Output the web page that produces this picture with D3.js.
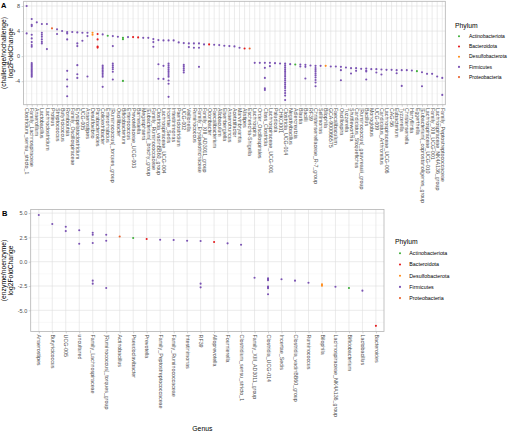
<!DOCTYPE html>
<html><head><meta charset="utf-8">
<script src="https://cdn.jsdelivr.net/npm/d3@7"></script>
<style>body{margin:0;background:#fff} svg{display:block} text{font-family:"Liberation Sans",Arial,sans-serif}</style>
</head><body><svg id="c" width="510" height="433"></svg>
<script>
const phyla = ["Actinobacteriota","Bacteroidota","Desulfobacterota","Firmicutes","Proteobacteria"];
const phylumColors = ["#3FAE3A","#E41A1C","#FF8C1A","#7A52B3","#E8622C"];

const genusA = ["Clostridium_sensu_stricto_1","Family_Lachnospiraceae","Anaerofilum","Lactobacillus","Lachnoclostridium","Proteus","Streptococcus","Butyricicoccus","Romboutsia","Family_Oscillospiraceae","Erysipelatoclostridium","UCG-005","Anaerostipes","Desulfovibrio","Parabacteroides","Colidextribacter","Enterorhabdus","[Ruminococcus]_torques_group","Oscillibacter","Bifidobacterium","Enterococcus","Prevotellaceae_UCG-003","Barnesiella","Megasphaera","[Eubacterium]_brachy_group","Family_Ruminococcaceae","Clostridia_vadinBB60_group","Lachnospiraceae_UCG-004","Incertae_Sedis","Intestinimonas","Paeniclostridium","UCG-002","Veillonella","Ruminococcus","Family_Erysipelotrichaceae","Family_XIII_AD3011_group","Odoribacter","Faecalibacterium","Allobaculum","Eisenbergiella","Anaerotruncus","Acetatifactor","Marvinbryantia","Alistipes","Escherichia-Shigella","Lachnospira","Order_Oscillospirales","Class_Clostridia","Lachnospiraceae_UCG-001","Paludicola","CHKCI001","Clostridia_UCG-014","Negativibacillus","Adlercreutzia","Blautia","Bacilli","RF39","Christensenellaceae_R-7_group","Sellimonas","Bilophila","GCA-900066575","Faecalibaculum","Oscillospira","Tuzzerella","Shuttleworthia","Candidatus_Stoquefichus","[Ruminococcus]_gauvreauii_group","Bacillus","Monoglobus","UCG-009","Candidatus_Arthromitus","Lachnospiraceae_UCG-006","CAG-56","Eubacterium","Tyzzerella","Christensenella","Harryflintia","Eggerthella","[Eubacterium]_coprostanoligenes_group","Lachnospiraceae_UCG-010","Family_XIII_UCG-001","Lachnospiraceae_NK4A136_group","Family_Peptostreptococcaceae"];
const phylumA = ["Firmicutes","Firmicutes","Firmicutes","Firmicutes","Firmicutes","Proteobacteria","Firmicutes","Firmicutes","Firmicutes","Firmicutes","Firmicutes","Firmicutes","Firmicutes","Desulfobacterota","Bacteroidota","Firmicutes","Actinobacteriota","Firmicutes","Firmicutes","Actinobacteriota","Firmicutes","Bacteroidota","Bacteroidota","Firmicutes","Firmicutes","Firmicutes","Firmicutes","Firmicutes","Firmicutes","Firmicutes","Firmicutes","Firmicutes","Firmicutes","Firmicutes","Firmicutes","Firmicutes","Bacteroidota","Firmicutes","Firmicutes","Firmicutes","Firmicutes","Firmicutes","Firmicutes","Bacteroidota","Proteobacteria","Firmicutes","Firmicutes","Firmicutes","Firmicutes","Firmicutes","Firmicutes","Firmicutes","Firmicutes","Actinobacteriota","Firmicutes","Firmicutes","Firmicutes","Firmicutes","Firmicutes","Desulfobacterota","Firmicutes","Firmicutes","Firmicutes","Firmicutes","Firmicutes","Firmicutes","Firmicutes","Firmicutes","Firmicutes","Firmicutes","Firmicutes","Firmicutes","Firmicutes","Firmicutes","Firmicutes","Firmicutes","Firmicutes","Actinobacteriota","Firmicutes","Firmicutes","Firmicutes","Firmicutes","Firmicutes"];
const valuesA = [
 [8.0,3.63],
 [5.92,5.0,4.79,3.41,2.83,2.24,1.76,1.49,-1.1,-1.3,-1.5,-1.7,-1.9,-2.1,-2.3,-2.5,-2.7,-2.9,-3.1,-3.3],
 [5.39],
 [5.12,3.73,3.41,3.09,2.67,2.29,2.03],
 [5.12,1.12],
 [4.43],
 [4.27,3.52],
 [4.0],
 [3.84,3.63,2.67,-2.35,-3.73,-4.85,-6.4],
 [3.84],
 [3.79,2.03,1.6,-1.44,-2.88,-3.47],
 [3.73,2.45],
 [3.73,3.2,-3.25],
 [3.73,3.41],
 [3.52,2.67,1.52,1.36],
 [3.47,-1.5,-1.75,-2.0,-2.25,-2.5,-2.75,-3.0,-3.3,-4.9],
 [3.25],
 [3.2,1.6,-1.2,-1.5,-1.8,-2.1,-2.5,-3.73],
 [3.09],
 [2.92,2.7,-3.95],
 [3.04],
 [3.04],
 [2.99],
 [2.92],
 [2.92],
 [2.72,2.24,1.49],
 [2.56,-1.3,-3.6],
 [2.51,-1.55,-3.63],
 [2.51,-1.2,-1.5,-1.8,-2.1,-2.4,-2.7,-3.0,-3.3,-3.9,-4.4,-6.5],
 [2.51],
 [2.19],
 [2.08,-1.4,-1.7,-2.0,-2.3,-2.6],
 [2.03,1.44],
 [2.03,1.33],
 [2.03,1.33,-1.71],
 [1.87],
 [1.87],
 [1.81],
 [1.76],
 [1.65],
 [1.6],
 [1.55],
 [1.33],
 [1.23],
 [1.23],
 [-1.07],
 [-1.07],
 [-1.07,-1.87,-3.47,-5.12,-5.39],
 [-1.07,-1.6],
 [-1.12],
 [-1.17],
 [-1.2,-1.5,-1.8,-2.1,-2.4,-2.7,-3.0,-3.3,-3.6,-3.9,-4.2,-4.5,-4.8,-5.1,-5.5,-5.9,-6.3,-7.0],
 [-1.28],
 [-1.33],
 [-1.33,-1.65],
 [-1.39,-1.71,-3.57],
 [-1.49],
 [-1.55,-1.9,-2.2,-2.5,-2.8,-3.1,-3.4,-3.8,-4.2,-4.8],
 [-1.55],
 [-1.55],
 [-1.65],
 [-1.65],
 [-1.71,-2.24,-3.84],
 [-1.81],
 [-1.92,-2.77],
 [-1.92,-2.35],
 [-2.03],
 [-1.97,-2.29,-2.45,-3.73],
 [-2.08],
 [-2.08,-2.61],
 [-2.13,-2.93],
 [-2.19],
 [-2.19],
 [-2.24,-2.72],
 [-2.24,-4.75],
 [-2.24],
 [-2.29],
 [-2.4],
 [-2.56,-4.8],
 [-2.83],
 [-2.83],
 [-3.25],
 [-3.47,-6.19]
];

const genusB = ["Anaerostipes","Butyricicoccus","UCG-005","uncultured","Family_Lachnospiraceae","[Ruminococcus]_torques_group","Actinobacillus","Pseudoclavibacter","Prevotella","Family_Peptostreptococcaceae","Family_Ruminococcaceae","Intestinimonas","RF39","Alloprevotella","Fournierella","Clostridium_sensu_stricto_1","Family_XIII_AD3011_group","Clostridia_UCG-014","Incertae_Sedis","Clostridia_vadinBB60_group","Ruminococcus","Bilophila","Lachnospiraceae_NK4A136_group","Bifidobacterium","Lactobacillus","Bacteroides"];
const phylumB = ["Firmicutes","Firmicutes","Firmicutes","Firmicutes","Firmicutes","Firmicutes","Proteobacteria","Actinobacteriota","Bacteroidota","Firmicutes","Firmicutes","Firmicutes","Firmicutes","Bacteroidota","Firmicutes","Firmicutes","Firmicutes","Firmicutes","Firmicutes","Firmicutes","Firmicutes","Desulfobacterota","Firmicutes","Actinobacteriota","Firmicutes","Bacteroidota"];
const valuesB = [
 [4.8],[3.88],[3.6,3.15],[3.23,1.85],[2.98,2.78,1.92,-1.95,-2.26],[2.78,2.16,-2.7],
 [2.6],[2.44],[2.33],[2.26],[2.23],[2.16],[2.13,-2.26,-2.64],[2.03],[1.89],[1.75],
 [-1.65],[-1.72,-1.82,-1.9,-2.55,-2.65,-2.72,-3.35],[-1.81],[-1.95],[-2.16],[-2.33,-2.47],
 [-2.57],[-2.7],[-2.98],[-6.6]
];

const ticksA = [-4,0,4,8];
const tickLabelsA = ["-4","0","4","8"];
const minorA = [-6,-2,2,6];
const ticksB = [-5,-2.5,0,2.5,5];
const tickLabelsB = ["-5.0","-2.5","0.0","2.5","5.0"];
const minorB = [-6.25,-3.75,-1.25,1.25,3.75];

const svg = d3.select("#c");
const color = d3.scaleOrdinal().domain(phyla).range(phylumColors);

function panel(o){
  const g = svg.append("g");
  const x = d3.scalePoint().domain(o.genus).range([o.left, o.right]).padding(0.6);
  const all = o.values.flat();
  const mn = d3.min(all), mx = d3.max(all), r = mx - mn;
  const y = d3.scaleLinear().domain([mn - 0.05*r, mx + 0.05*r]).range([o.bottom, o.top]);
  // grid
  g.selectAll(".mn").data(o.minor).join("line")
    .attr("x1",o.left).attr("x2",o.right).attr("y1",d=>y(d)).attr("y2",d=>y(d))
    .attr("stroke","#EDEDED").attr("stroke-width",0.35);
  g.selectAll(".mjy").data(o.ticks).join("line")
    .attr("x1",o.left).attr("x2",o.right).attr("y1",d=>y(d)).attr("y2",d=>y(d))
    .attr("stroke","#DEDEDE").attr("stroke-width",0.6);
  g.selectAll(".mjx").data(o.genus).join("line")
    .attr("x1",d=>x(d)).attr("x2",d=>x(d)).attr("y1",o.top).attr("y2",o.bottom)
    .attr("stroke","#DEDEDE").attr("stroke-width",0.6);
  // points
  const pts = [];
  o.genus.forEach((gn,i)=>o.values[i].forEach(v=>pts.push({g:gn,v:v,p:o.phylum[i]})));
  g.selectAll(".pt").data(pts).join("circle")
    .attr("cx",d=>x(d.g)).attr("cy",d=>y(d.v)).attr("r",1.05)
    .attr("fill",d=>color(d.p));
  // border
  g.append("rect").attr("x",o.left).attr("y",o.top).attr("width",o.right-o.left).attr("height",o.bottom-o.top)
    .attr("fill","none").attr("stroke","#B3B3B3").attr("stroke-width",0.8);
  // y axis
  const ya = g.append("g").attr("transform",`translate(${o.left},0)`)
    .call(d3.axisLeft(y).tickValues(o.ticks).tickFormat((d,i)=>o.tickLabels[i]).tickSize(2).tickPadding(1.5));
  ya.select(".domain").remove();
  ya.selectAll("line").attr("stroke","#B3B3B3").attr("stroke-width",0.6);
  ya.selectAll("text").attr("fill","#4D4D4D").style("font-size","5.5px").style("font-family","Liberation Sans, Arial, sans-serif");
  // x axis
  const xa = g.append("g").attr("transform",`translate(0,${o.bottom})`)
    .call(d3.axisBottom(x).tickSize(2));
  xa.select(".domain").remove();
  xa.selectAll("line").attr("stroke","#B3B3B3").attr("stroke-width",0.6);
  xa.selectAll("text").attr("fill","#4D4D4D").style("font-size","5.3px").style("font-family","Liberation Sans, Arial, sans-serif")
    .attr("x",3.2).attr("y",0).attr("dy","0.35em").attr("transform","rotate(90)").style("text-anchor","start");
  // y title
  const cy = (o.top+o.bottom)/2;
  o.ytitle.forEach((t,i)=>{
    svg.append("text").attr("transform",`translate(${o.ytx[i]},${cy}) rotate(-90)`)
      .attr("text-anchor","middle").style("font-size","6.8px").attr("fill","#000").text(t);
  });
  // panel tag
  svg.append("text").attr("x",o.tag[1]).attr("y",o.tag[2]).style("font-size","7.5px").style("font-weight","bold").text(o.tag[0]);
  // legend
  const L = svg.append("g");
  L.append("text").attr("x",o.leg.x).attr("y",o.leg.y).style("font-size","6.8px").attr("fill","#000").text("Phylum");
  phyla.forEach((p,i)=>{
    const yy = o.leg.y0 + i*o.leg.dy;
    L.append("circle").attr("cx",o.leg.kx).attr("cy",yy).attr("r",1.05).attr("fill",color(p));
    L.append("text").attr("x",o.leg.tx).attr("y",yy).attr("dy","0.35em").style("font-size",o.leg.fs).attr("fill","#000").text(p);
  });
}

panel({genus:genusA, phylum:phylumA, values:valuesA, left:23.6, right:445.3, top:1.3, bottom:104.7,
  ticks:ticksA, tickLabels:tickLabelsA, minor:minorA,
  ytitle:["(challenge/nochallenge)","log2FoldChange"], ytx:[6,12.8], tag:["A",1,7.5],
  leg:{x:455,y:28,kx:459,tx:469,y0:36.3,dy:10.2,fs:"5px"}});

panel({genus:genusB, phylum:phylumB, values:valuesB, left:30.7, right:384, top:209.5, bottom:331.4,
  ticks:ticksB, tickLabels:tickLabelsB, minor:minorB,
  ytitle:["(enzyme/noenzyme)","log2FoldChange"], ytx:[6,12.8], tag:["B",2,215.5],
  leg:{x:395,y:244,kx:400,tx:409.3,y0:253.3,dy:11.2,fs:"5.3px"}});

svg.append("text").attr("x",(30.7+384)/2-5).attr("y",430.5).attr("text-anchor","middle").style("font-size","6.8px").text("Genus");
</script></body></html>
